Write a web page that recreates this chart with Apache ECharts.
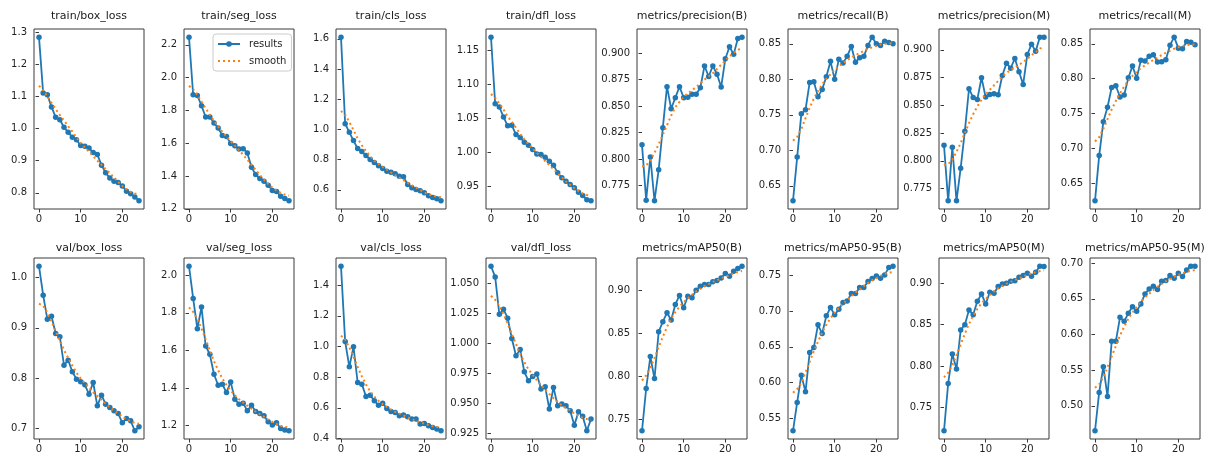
<!DOCTYPE html>
<html><head><meta charset="utf-8">
<script src="https://cdn.jsdelivr.net/npm/echarts@6/dist/echarts.min.js"></script>
<style>html,body{margin:0;padding:0;background:#fff}#c{width:1218px;height:460px}</style>
</head><body><div id="c"></div>
<script>
const epochs = [0,1,2,3,4,5,6,7,8,9,10,11,12,13,14,15,16,17,18,19,20,21,22,23,24];
const xTickLabels = ['0','10','20'];
const titles = ['train/box_loss','train/seg_loss','train/cls_loss','train/dfl_loss','metrics/precision(B)','metrics/recall(B)','metrics/precision(M)','metrics/recall(M)',
  'val/box_loss','val/seg_loss','val/cls_loss','val/dfl_loss','metrics/mAP50(B)','metrics/mAP50-95(B)','metrics/mAP50(M)','metrics/mAP50-95(M)'];

const trainBoxLoss = [1.284,1.110,1.105,1.067,1.035,1.027,1.004,0.988,0.973,0.965,0.947,0.945,0.939,0.925,0.919,0.886,0.862,0.846,0.836,0.832,0.821,0.805,0.797,0.787,0.775];
const trainBoxLossSmooth = [1.133,1.119,1.100,1.080,1.060,1.042,1.025,1.007,0.990,0.972,0.955,0.941,0.928,0.914,0.900,0.887,0.874,0.861,0.848,0.834,0.821,0.811,0.803,0.798,0.796];
const trainSegLoss = [2.247,1.896,1.892,1.829,1.760,1.760,1.723,1.693,1.648,1.642,1.598,1.585,1.565,1.567,1.541,1.454,1.409,1.385,1.368,1.344,1.312,1.306,1.277,1.263,1.249];
const trainSegLossSmooth = [1.950,1.930,1.895,1.855,1.813,1.774,1.737,1.702,1.670,1.641,1.613,1.586,1.558,1.530,1.500,1.469,1.438,1.407,1.378,1.352,1.330,1.312,1.297,1.287,1.281];
const trainClsLoss = [1.611,1.038,0.981,0.926,0.873,0.853,0.827,0.800,0.781,0.759,0.741,0.723,0.717,0.706,0.690,0.686,0.635,0.613,0.602,0.593,0.580,0.560,0.549,0.540,0.527];
const trainClsLossSmooth = [1.122,1.096,1.050,0.995,0.940,0.895,0.857,0.823,0.792,0.771,0.751,0.733,0.715,0.698,0.681,0.664,0.646,0.630,0.614,0.598,0.582,0.570,0.560,0.554,0.550];
const trainDflLoss = [1.1696,1.0716,1.0667,1.052,1.039,1.0397,1.026,1.0216,1.0147,1.0103,1.004,0.9975,0.9966,0.9926,0.9868,0.981,0.9696,0.9623,0.9574,0.9525,0.9475,0.9412,0.9363,0.930,0.9284];
const trainDflLossSmooth = [1.0858,1.080,1.072,1.063,1.0525,1.045,1.036,1.027,1.019,1.012,1.0057,0.999,0.993,0.987,0.981,0.975,0.969,0.963,0.957,0.952,0.947,0.943,0.939,0.937,0.935];
const precisionB = [0.8136,0.7613,0.802,0.7607,0.790,0.8297,0.8683,0.8475,0.858,0.8683,0.858,0.8583,0.8611,0.8611,0.8673,0.8879,0.8779,0.8879,0.880,0.868,0.8947,0.906,0.8988,0.9137,0.915];
const precisionBSmooth = [0.793,0.794,0.799,0.806,0.814,0.823,0.832,0.841,0.849,0.854,0.8586,0.862,0.865,0.868,0.8714,0.875,0.878,0.881,0.885,0.889,0.893,0.897,0.900,0.903,0.905];
const recallB = [0.629,0.6905,0.7514,0.757,0.7956,0.7965,0.7756,0.7858,0.8035,0.8253,0.8002,0.8281,0.823,0.8323,0.8463,0.824,0.8305,0.8323,0.8477,0.8593,0.85,0.8477,0.8537,0.8519,0.85];
const recallBSmooth = [0.7136,0.719,0.730,0.7452,0.760,0.773,0.7835,0.793,0.801,0.807,0.8133,0.818,0.823,0.827,0.8307,0.834,0.837,0.840,0.8429,0.845,0.847,0.849,0.850,0.8505,0.8509];
const precisionM = [0.814,0.7639,0.8122,0.7639,0.7933,0.8266,0.8649,0.8571,0.8553,0.8748,0.8574,0.8598,0.8604,0.8595,0.8769,0.888,0.8835,0.8922,0.8802,0.8688,0.8958,0.9051,0.8988,0.9114,0.9114];
const precisionMSmooth = [0.796,0.797,0.801,0.808,0.816,0.825,0.834,0.842,0.849,0.855,0.860,0.864,0.868,0.872,0.876,0.879,0.882,0.884,0.8865,0.889,0.892,0.895,0.898,0.901,0.903];
const recallM = [0.6249,0.6898,0.7382,0.759,0.7874,0.7898,0.7737,0.7765,0.8012,0.8182,0.8007,0.8263,0.8254,0.832,0.8344,0.8239,0.8244,0.8273,0.8481,0.8595,0.8438,0.8429,0.8533,0.8524,0.8486];
const recallMSmooth = [0.710,0.716,0.728,0.742,0.756,0.768,0.779,0.789,0.797,0.804,0.810,0.815,0.819,0.823,0.827,0.830,0.834,0.837,0.840,0.843,0.845,0.847,0.848,0.849,0.849];

const valBoxLoss = [1.0225,0.9649,0.9172,0.9232,0.8887,0.8821,0.8258,0.8358,0.8126,0.798,0.7927,0.7868,0.7682,0.7914,0.745,0.7662,0.7483,0.7417,0.7351,0.7298,0.7113,0.7199,0.7152,0.6954,0.7033];
const valBoxLossSmooth = [0.948,0.944,0.930,0.9125,0.894,0.875,0.856,0.840,0.825,0.811,0.799,0.790,0.781,0.772,0.764,0.757,0.749,0.742,0.736,0.730,0.724,0.718,0.714,0.711,0.7095];
const valSegLoss = [2.0477,1.8763,1.7155,1.8304,1.6237,1.5795,1.4735,1.4152,1.4205,1.3763,1.4329,1.341,1.3145,1.3198,1.2792,1.3092,1.2756,1.265,1.2527,1.2208,1.2032,1.2155,1.1855,1.1767,1.1731];
const valSegLossSmooth = [1.829,1.805,1.769,1.716,1.659,1.600,1.543,1.495,1.451,1.417,1.387,1.362,1.341,1.323,1.306,1.290,1.275,1.261,1.247,1.233,1.220,1.209,1.200,1.194,1.191];
const valClsLoss = [1.524,1.0326,0.8674,0.9978,0.7652,0.7543,0.6739,0.6826,0.6457,0.6174,0.6304,0.5957,0.5761,0.5696,0.5478,0.5522,0.5413,0.5261,0.5261,0.4935,0.4978,0.4826,0.4717,0.4609,0.45];
const valClsLossSmooth = [1.071,1.045,0.994,0.932,0.867,0.805,0.752,0.708,0.673,0.646,0.624,0.605,0.588,0.574,0.562,0.550,0.538,0.527,0.516,0.506,0.496,0.487,0.479,0.474,0.471];
const valDflLoss = [1.0639,1.055,1.0239,1.0281,1.0206,1.0037,0.9893,0.9946,0.976,0.9685,0.9721,0.9741,0.9616,0.9635,0.945,0.963,0.9477,0.9491,0.9477,0.9436,0.9316,0.9427,0.9389,0.9269,0.9366];
const valDflLossSmooth = [1.0393,1.036,1.031,1.0241,1.016,1.0075,0.9992,0.991,0.984,0.978,0.9734,0.969,0.965,0.961,0.9576,0.954,0.951,0.948,0.9459,0.944,0.941,0.9392,0.9378,0.9367,0.936];
const mAP50B = [0.7364,0.7857,0.8229,0.7973,0.8519,0.8636,0.874,0.8655,0.8837,0.8942,0.8798,0.8934,0.8915,0.9004,0.905,0.907,0.907,0.9101,0.9116,0.9147,0.9198,0.9167,0.9225,0.9256,0.9283];
const mAP50BSmooth = [0.795,0.801,0.810,0.821,0.834,0.846,0.8575,0.867,0.875,0.881,0.8864,0.891,0.895,0.899,0.902,0.905,0.9073,0.910,0.912,0.914,0.916,0.918,0.920,0.9215,0.9228];
const mAP5095B = [0.5328,0.5723,0.6105,0.5872,0.6421,0.6491,0.6807,0.6686,0.6933,0.7049,0.6947,0.7026,0.7119,0.7142,0.7244,0.7244,0.7328,0.7328,0.7412,0.7453,0.7491,0.7458,0.7505,0.7607,0.7626];
const mAP5095BSmooth = [0.586,0.591,0.600,0.614,0.629,0.644,0.6574,0.670,0.681,0.690,0.6975,0.704,0.710,0.716,0.721,0.726,0.730,0.735,0.739,0.743,0.7459,0.749,0.752,0.7535,0.7545];
const mAP50M = [0.7218,0.779,0.8145,0.7964,0.8435,0.85,0.8677,0.8621,0.8782,0.8871,0.875,0.8891,0.8879,0.896,0.8992,0.90,0.9024,0.9032,0.9073,0.9093,0.9121,0.9085,0.9133,0.9206,0.9202];
const mAP50MSmooth = [0.7863,0.792,0.801,0.8131,0.826,0.839,0.8508,0.861,0.869,0.876,0.881,0.886,0.890,0.894,0.897,0.8995,0.9016,0.904,0.906,0.908,0.9103,0.912,0.9135,0.9147,0.9155];
const mAP5095M = [0.4649,0.5187,0.5548,0.5131,0.5904,0.5904,0.6241,0.6185,0.6297,0.6391,0.6325,0.6429,0.6569,0.6639,0.6677,0.663,0.6747,0.6756,0.6827,0.6789,0.686,0.6813,0.6906,0.6958,0.6958];
const mAP5095MSmooth = [0.5252,0.530,0.540,0.5542,0.569,0.584,0.5985,0.611,0.622,0.631,0.6387,0.646,0.652,0.657,0.6624,0.667,0.671,0.675,0.6779,0.681,0.6835,0.6857,0.6878,0.6894,0.6904];

const ticksTrainBox = ['0.8','0.9','1.0','1.1','1.2','1.3'];
const ticksTrainSeg = ['1.2','1.4','1.6','1.8','2.0','2.2'];
const ticksTrainCls = ['0.6','0.8','1.0','1.2','1.4','1.6'];
const ticksTrainDfl = ['0.95','1.00','1.05','1.10','1.15'];
const ticksPrecision = ['0.775','0.800','0.825','0.850','0.875','0.900'];
const ticksRecall = ['0.65','0.70','0.75','0.80','0.85'];
const ticksValBox = ['0.7','0.8','0.9','1.0'];
const ticksValSeg = ['1.2','1.4','1.6','1.8','2.0'];
const ticksValCls = ['0.4','0.6','0.8','1.0','1.2','1.4'];
const ticksValDfl = ['0.925','0.950','0.975','1.000','1.025','1.050'];
const ticksMAP50 = ['0.75','0.80','0.85','0.90'];
const ticksMAP5095B = ['0.55','0.60','0.65','0.70','0.75'];
const ticksMAP5095M = ['0.50','0.55','0.60','0.65','0.70'];

const results = [trainBoxLoss,trainSegLoss,trainClsLoss,trainDflLoss,precisionB,recallB,precisionM,recallM,
  valBoxLoss,valSegLoss,valClsLoss,valDflLoss,mAP50B,mAP5095B,mAP50M,mAP5095M];
const smooth = [trainBoxLossSmooth,trainSegLossSmooth,trainClsLossSmooth,trainDflLossSmooth,precisionBSmooth,recallBSmooth,precisionMSmooth,recallMSmooth,
  valBoxLossSmooth,valSegLossSmooth,valClsLossSmooth,valDflLossSmooth,mAP50BSmooth,mAP5095BSmooth,mAP50MSmooth,mAP5095MSmooth];
const yTicks = [ticksTrainBox,ticksTrainSeg,ticksTrainCls,ticksTrainDfl,ticksPrecision,ticksRecall,ticksPrecision,ticksRecall,
  ticksValBox,ticksValSeg,ticksValCls,ticksValDfl,ticksMAP50,ticksMAP5095B,ticksMAP50,ticksMAP5095M];

// layout
const FONT = 'DejaVu Sans';
const colLeft = [34,184,336,486,637,788,939,1090];
const rowTop = [29,258];
const rowH = [180,181];
const titleTop = [11,243];
const panelW = 110;
const frameColor = '#3a3a3a';
const textColor = '#1f1f1f';

function labelFor(list){
  return function(v){
    for (const s of list){ if (Math.abs(Number(s)-v) < 1e-9) return s; }
    return '';
  };
}

const option = {animation:false, backgroundColor:'#ffffff', title:[], grid:[], xAxis:[], yAxis:[], series:[],
  legend:{data:[{name:'results'},{name:'smooth', itemStyle:{opacity:0}}], left:213, top:34, orient:'vertical',
    itemWidth:22, itemHeight:7, itemGap:7,
    padding:[5,5,5,4], backgroundColor:'rgba(255,255,255,0.85)', borderColor:'#cccccc', borderWidth:1, borderRadius:3,
    selectedMode:false, textStyle:{fontFamily:FONT, fontSize:10, color:textColor, padding:[0,0,0,4]}}};

const xVals = xTickLabels.map(Number);
for (let i=0;i<16;i++){
  const r = Math.floor(i/8), c = i%8;
  const left = colLeft[c], top = rowTop[r], h = rowH[r];
  option.grid.push({left:left, top:top, width:panelW, height:h, show:true, borderColor:frameColor, borderWidth:1, backgroundColor:'rgba(0,0,0,0)'});
  option.title.push({text:titles[i], left:left+panelW/2, top:titleTop[r], textAlign:'center', padding:0,
    textStyle:{fontFamily:FONT, fontSize:11, fontWeight:'normal', color:'#1a1a1a'}});
  const all = results[i].concat(smooth[i]);
  const lo = Math.min.apply(null, all), hi = Math.max.apply(null, all), pad = (hi-lo)*0.05;
  const ymin = lo-pad, ymax = hi+pad;
  const yVals = yTicks[i].map(Number).filter(v => v >= ymin-1e-9 && v <= ymax+1e-9);
  option.xAxis.push({type:'value', gridIndex:i, min:-1.2, max:25.2,
    axisLine:{show:false}, splitLine:{show:false},
    axisTick:{show:true, customValues:xVals, length:3.5, lineStyle:{color:frameColor, width:1}},
    axisLabel:{show:true, customValues:xVals, formatter:labelFor(xTickLabels), margin:5, fontSize:10, fontFamily:FONT, color:textColor}});
  option.yAxis.push({type:'value', gridIndex:i, min:ymin, max:ymax,
    axisLine:{show:false}, splitLine:{show:false},
    axisTick:{show:true, customValues:yVals, length:3.5, lineStyle:{color:frameColor, width:1}},
    axisLabel:{show:true, customValues:yVals, formatter:labelFor(yTicks[i]), margin:7, fontSize:10, fontFamily:FONT, color:textColor}});
  option.series.push({type:'line', name:'results', xAxisIndex:i, yAxisIndex:i,
    data: epochs.map((e,k)=>[e, results[i][k]]),
    symbol:'circle', symbolSize:5.5, showSymbol:true, showAllSymbol:true,
    lineStyle:{color:'#1f77b4', width:1.8}, itemStyle:{color:'#1f77b4'}, emphasis:{disabled:true}, z:2});
  option.series.push({type:'line', name:'smooth', xAxisIndex:i, yAxisIndex:i,
    data: epochs.map((e,k)=>[e, smooth[i][k]]),
    symbol:'none', showSymbol:false,
    lineStyle:{color:'#ff7f0e', width:2, type:[2,3]}, itemStyle:{color:'#ff7f0e'}, emphasis:{disabled:true}, z:3});
}

const chart = echarts.init(document.getElementById('c'), null, {renderer:'canvas'});
chart.setOption(option);
</script>
</body></html>
